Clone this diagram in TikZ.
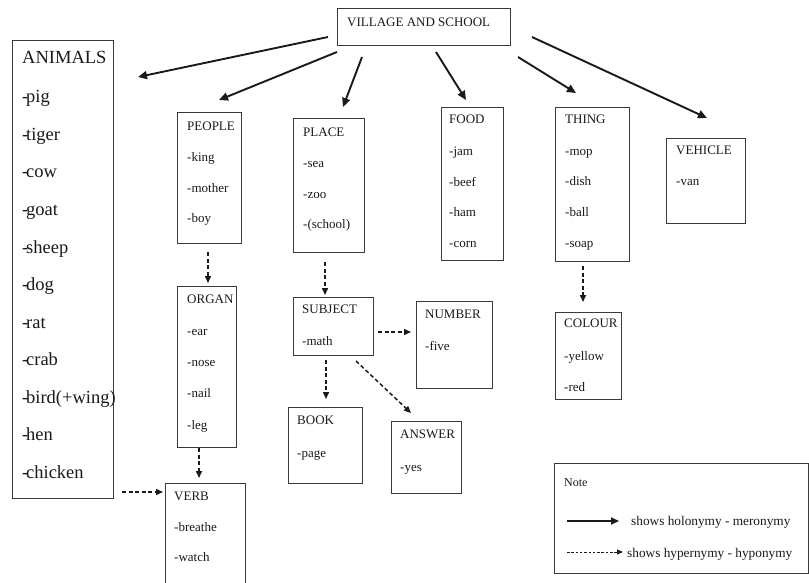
\documentclass[tikz,border=0pt]{standalone}
\usepackage{fontspec}
\setmainfont{Liberation Serif}
\usetikzlibrary{arrows.meta}
\definecolor{ink}{HTML}{1A1A1A}
\definecolor{edge}{HTML}{3A3A3A}
\newcommand{\tightdash}{-\kern-0.12em}
\tikzset{
  box/.style={draw=edge, line width=0.9pt, inner sep=0pt, anchor=north west},
  lbl/.style={inner sep=0pt, anchor=west, text=ink, font=\fontsize{13}{15}\selectfont, text height=8.6pt, text depth=0pt},
  biglbl/.style={lbl, font=\fontsize{18.5}{21}\selectfont, text height=12pt},
  notelbl/.style={lbl, font=\fontsize{13.3}{15}\selectfont},
  holo/.style={draw=ink, line width=1.9pt, -{Triangle[length=9pt,width=8pt]}},
  hyper/.style={draw=ink, line width=1.5pt, dash pattern=on 4pt off 2.6pt, -{Triangle[length=7pt,width=6pt]}},
  hyperthin/.style={draw=ink, line width=0.8pt, dash pattern=on 2.5pt off 1.8pt, -{Triangle[length=6pt,width=5pt]}},
}
\begin{document}
\begin{tikzpicture}[x=1pt,y=-1pt]
\useasboundingbox (0,0) rectangle (809,583);
\fill[white] (0,0) rectangle (809,583);

% ---- boxes ----
\node[box, minimum width=173, minimum height=37] (village) at (337,8) {};
\node[box, minimum width=101, minimum height=458] (animals) at (12,40) {};
\node[box, minimum width=64, minimum height=131] (people) at (177,112) {};
\node[box, minimum width=71, minimum height=134] (place) at (293,118) {};
\node[box, minimum width=62, minimum height=153] (food) at (441,107) {};
\node[box, minimum width=74, minimum height=154] (thing) at (555,107) {};
\node[box, minimum width=79, minimum height=85] (vehicle) at (666,138) {};
\node[box, minimum width=59, minimum height=161] (organ) at (177,286) {};
\node[box, minimum width=80, minimum height=58] (subject) at (293,297) {};
\node[box, minimum width=76, minimum height=87] (number) at (416,301) {};
\node[box, minimum width=74, minimum height=76] (book) at (288,407) {};
\node[box, minimum width=70, minimum height=72] (answer) at (391,421) {};
\node[box, minimum width=80, minimum height=104] (verb) at (165,483) {};
\node[box, minimum width=66, minimum height=87] (colour) at (555,312) {};
\node[box, minimum width=254, minimum height=110] (note) at (554,463) {};

% ---- texts ----
\node[lbl] (village-t) at (347,22) {VILLAGE AND SCHOOL};

\node[biglbl] (an-t) at (22,58) {ANIMALS};
\foreach \w [count=\i] in {pig,tiger,cow,goat,sheep,dog,rat,crab,bird(+wing),hen,chicken}
  \node[biglbl] (an-\i) at (22,{59.5+37.5*\i}) {\tightdash\w};

\node[lbl] (people-t) at (187,126) {PEOPLE};
\node[lbl] (people-1) at (187,157) {-king};
\node[lbl] (people-2) at (187,188) {-mother};
\node[lbl] (people-3) at (187,218) {-boy};

\node[lbl] (place-t) at (303,132) {PLACE};
\node[lbl] (place-1) at (303,163) {-sea};
\node[lbl] (place-2) at (303,194) {-zoo};
\node[lbl] (place-3) at (303,224) {-(school)};

\node[lbl] (food-t) at (449,119) {FOOD};
\node[lbl] (food-1) at (449,151) {-jam};
\node[lbl] (food-2) at (449,182) {-beef};
\node[lbl] (food-3) at (449,212) {-ham};
\node[lbl] (food-4) at (449,243) {-corn};

\node[lbl] (thing-t) at (565,119) {THING};
\node[lbl] (thing-1) at (565,151) {-mop};
\node[lbl] (thing-2) at (565,181) {-dish};
\node[lbl] (thing-3) at (565,212) {-ball};
\node[lbl] (thing-4) at (565,243) {-soap};

\node[lbl] (vehicle-t) at (676,150) {VEHICLE};
\node[lbl] (vehicle-1) at (676,181) {-van};

\node[lbl] (organ-t) at (187,299) {ORGAN};
\node[lbl] (organ-1) at (187,331) {-ear};
\node[lbl] (organ-2) at (187,362) {-nose};
\node[lbl] (organ-3) at (187,393) {-nail};
\node[lbl] (organ-4) at (187,425) {-leg};

\node[lbl] (subject-t) at (302,309) {SUBJECT};
\node[lbl] (subject-1) at (302,341) {-math};

\node[lbl] (number-t) at (425,314) {NUMBER};
\node[lbl] (number-1) at (425,346) {-five};

\node[lbl] (book-t) at (297,420) {BOOK};
\node[lbl] (book-1) at (297,453) {-page};

\node[lbl] (answer-t) at (400,434) {ANSWER};
\node[lbl] (answer-1) at (400,467) {-yes};

\node[lbl] (verb-t) at (174,496) {VERB};
\node[lbl] (verb-1) at (174,527) {-breathe};
\node[lbl] (verb-2) at (174,557) {-watch};

\node[lbl] (colour-t) at (564,323) {COLOUR};
\node[lbl] (colour-1) at (564,356) {-yellow};
\node[lbl] (colour-2) at (564,387) {-red};

\node[lbl, font=\fontsize{12}{14}\selectfont] (note-t) at (564,482) {Note};
\node[notelbl] (note-1) at (631,521) {shows holonymy - meronymy};
\node[notelbl] (note-2) at (627,553) {shows hypernymy - hyponymy};

% ---- connector end points ----
\coordinate (v-an) at (328,37);   \coordinate (an-in) at (138,77);
\coordinate (v-pe) at (337,52);   \coordinate (pe-in) at (219,100);
\coordinate (v-pl) at (362,57);   \coordinate (pl-in) at (343,107);
\coordinate (v-fo) at (436,52);   \coordinate (fo-in) at (466,100);
\coordinate (v-th) at (518,57);   \coordinate (th-in) at (576,93);
\coordinate (v-ve) at (532,37);   \coordinate (ve-in) at (707,118);

\coordinate (pe-out) at (208,252); \coordinate (or-in) at (208,283);
\coordinate (pl-out) at (325,262); \coordinate (su-in) at (325,295);
\coordinate (or-out) at (199,448); \coordinate (ve2-in) at (199,478);
\coordinate (su-nu) at (378,332);  \coordinate (nu-in) at (411,332);
\coordinate (su-bo) at (326,360);  \coordinate (bo-in) at (326,399);
\coordinate (su-an) at (356,361);  \coordinate (ans-in) at (411,413);
\coordinate (th-out) at (583,266); \coordinate (co-in) at (583,302);
\coordinate (an-out) at (122,492); \coordinate (vb-in) at (163,492);

\coordinate (lg1-a) at (567,521);  \coordinate (lg1-b) at (619,521);
\coordinate (lg2-a) at (567,552);  \coordinate (lg2-b) at (623,552);

% ---- connectors ----
\draw[holo] (v-an) -- (an-in);
\draw[holo] (v-pe) -- (pe-in);
\draw[holo] (v-pl) -- (pl-in);
\draw[holo] (v-fo) -- (fo-in);
\draw[holo] (v-th) -- (th-in);
\draw[holo] (v-ve) -- (ve-in);

\draw[hyper] (pe-out) -- (or-in);
\draw[hyper] (pl-out) -- (su-in);
\draw[hyper] (or-out) -- (ve2-in);
\draw[hyper] (su-nu) -- (nu-in);
\draw[hyper] (su-bo) -- (bo-in);
\draw[hyper] (su-an) -- (ans-in);
\draw[hyper] (th-out) -- (co-in);
\draw[hyper] (an-out) -- (vb-in);

\draw[holo, line width=1.6pt, -{Triangle[length=8pt,width=7pt]}] (lg1-a) -- (lg1-b);
\draw[hyperthin] (lg2-a) -- (lg2-b);
\end{tikzpicture}
\end{document}
